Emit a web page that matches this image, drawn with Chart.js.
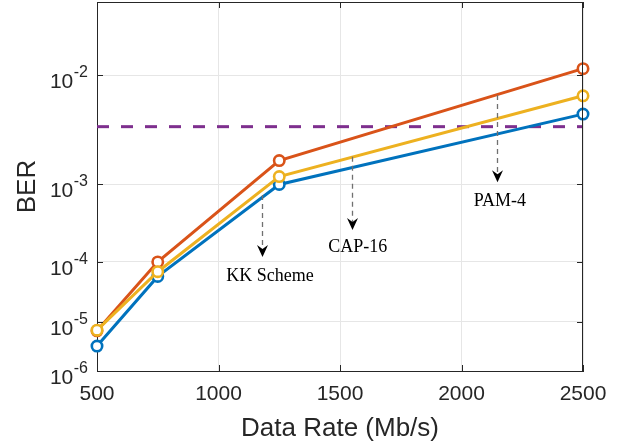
<!DOCTYPE html>
<html>
<head>
<meta charset="utf-8">
<script src="https://cdn.jsdelivr.net/npm/chart.js@4/dist/chart.umd.min.js"></script>
<style>
  html, body { margin: 0; padding: 0; background: #ffffff; }
  #wrap { width: 624px; height: 446px; }
</style>
</head>
<body>
<div id="wrap"><canvas id="c" width="624" height="446"></canvas></div>
<script>
// ---- data ----
const dataRates = [500, 750, 1250, 2500];
const berKK    = [3.4e-6, 6.0e-5, 1.0e-3, 4.9e-3];   // blue
const berPAM4  = [6.8e-6, 1.0e-4, 1.8e-3, 1.12e-2];  // orange
const berCAP16 = [7.0e-6, 7.1e-5, 1.22e-3, 6.95e-3]; // yellow
const fecLimit = 3.8e-3;
const xTicks = [500, 1000, 1500, 2000, 2500];
const yTickExps = [-2, -3, -4, -5, -6];
const xTitle = 'Data Rate (Mb/s)';
const yTitle = 'BER';
// annotations: label, arrow x, arrow start BER, arrow tip BER, label x, label baseline BER
const annLabels  = ['KK Scheme', 'CAP-16', 'PAM-4'];
const annX       = [1180, 1550, 2145];
const annFromBer = [7.6e-4, 1.97e-3, 7.05e-3];
const annToBer   = [1.18e-4, 2.8e-4, 1.06e-3];
const annLabelX  = [1212, 1573, 2158];
const annLabelBer= [5.1e-5, 1.4e-4, 5.6e-4];

// y axis is linear in log10(-log10(BER))
const tf = b => Math.log10(-Math.log10(b));
const yTopBer = 0.03, yBottomBer = 1e-6;

const pts = arr => dataRates.map((x, i) => ({ x: x, y: tf(arr[i]) }));

const AX = '#262626';
const TICKFONT = '"Liberation Sans", Arial, Helvetica, sans-serif';

const lineDs = (label, arr, color, order) => ({
  label, data: pts(arr), borderColor: color, backgroundColor: '#ffffff',
  borderWidth: 3, pointRadius: 5.2, pointBorderWidth: 2.6, pointStyle: 'circle',
  pointBackgroundColor: '#ffffff', pointBorderColor: color, tension: 0, order, clip: false
});

const decorPlugin = {
  id: 'decor',
  afterDraw(chart) {
    const ctx = chart.ctx, a = chart.chartArea;
    const xs = chart.scales.x, ys = chart.scales.y;
    ctx.save();
    // box top and right
    ctx.strokeStyle = AX; ctx.lineWidth = 1;
    ctx.beginPath();
    ctx.moveTo(a.left, a.top + 0.5); ctx.lineTo(a.right, a.top + 0.5);
    ctx.moveTo(a.right - 0.5, a.top); ctx.lineTo(a.right - 0.5, a.bottom);
    ctx.stroke();
    // inward ticks
    const tl = 6;
    ctx.beginPath();
    xTicks.forEach(v => {
      const px = Math.round(xs.getPixelForValue(v)) + 0.5;
      ctx.moveTo(px, a.bottom); ctx.lineTo(px, a.bottom - tl);
      ctx.moveTo(px, a.top); ctx.lineTo(px, a.top + tl);
    });
    yTickExps.forEach(e => {
      const py = Math.round(ys.getPixelForValue(tf(Math.pow(10, e)))) + 0.5;
      ctx.moveTo(a.left, py); ctx.lineTo(a.left + tl, py);
      ctx.moveTo(a.right, py); ctx.lineTo(a.right - tl, py);
    });
    ctx.stroke();
    // x tick labels
    ctx.fillStyle = AX;
    ctx.font = '21px ' + TICKFONT;
    ctx.textAlign = 'center'; ctx.textBaseline = 'alphabetic';
    xTicks.forEach(v => {
      ctx.fillText(String(v), xs.getPixelForValue(v), a.bottom + 29);
    });
    // y tick labels 10^e
    yTickExps.forEach(e => {
      const py = ys.getPixelForValue(tf(Math.pow(10, e)));
      ctx.font = '16px ' + TICKFONT;
      ctx.textAlign = 'right';
      const expTxt = String(e);
      const ew = ctx.measureText(expTxt).width;
      const rightX = a.left - 9;
      ctx.fillText(expTxt, rightX, py + 2);
      ctx.font = '21px ' + TICKFONT;
      ctx.fillText('10', rightX - ew - 0.5, py + 13);
    });
    // axis titles
    ctx.font = '26px ' + TICKFONT;
    ctx.textAlign = 'center';
    ctx.fillText(xTitle, (a.left + a.right) / 2, 436);
    ctx.save();
    ctx.translate(35, 186.5);
    ctx.rotate(-Math.PI / 2);
    ctx.fillText(yTitle, 0, 0);
    ctx.restore();
    ctx.restore();
  },
  afterDatasetsDraw(chart) {
    const ctx = chart.ctx;
    const xs = chart.scales.x, ys = chart.scales.y;
    ctx.save();
    annLabels.forEach((lab, i) => {
      const x = Math.round(xs.getPixelForValue(annX[i])) + 0.5;
      const y0 = ys.getPixelForValue(tf(annFromBer[i]));
      const y1 = ys.getPixelForValue(tf(annToBer[i]));
      const hl = 12, hw = 5.5, notch = 4;
      ctx.strokeStyle = '#707070';
      ctx.lineWidth = 1.3;
      ctx.setLineDash([5, 4]);
      ctx.beginPath();
      ctx.moveTo(x, y0); ctx.lineTo(x, y1 - hl + notch);
      ctx.stroke();
      ctx.setLineDash([]);
      ctx.fillStyle = '#000000';
      ctx.beginPath();
      ctx.moveTo(x, y1);
      ctx.lineTo(x - hw, y1 - hl);
      ctx.lineTo(x, y1 - hl + notch);
      ctx.lineTo(x + hw, y1 - hl);
      ctx.closePath();
      ctx.fill();
      ctx.font = '18px "Liberation Serif", "Times New Roman", serif';
      ctx.textAlign = 'center'; ctx.textBaseline = 'alphabetic';
      ctx.fillStyle = '#000000';
      ctx.fillText(lab, xs.getPixelForValue(annLabelX[i]), ys.getPixelForValue(tf(annLabelBer[i])));
    });
    ctx.restore();
  }
};

new Chart(document.getElementById('c'), {
  type: 'line',
  data: {
    datasets: [
      lineDs('CAP-16', berCAP16, '#EDB120', 0),
      lineDs('PAM-4', berPAM4, '#D95319', 1),
      lineDs('KK Scheme', berKK, '#0072BD', 2),
      {
        label: 'FEC limit', data: [{ x: xTicks[0], y: tf(fecLimit) }, { x: xTicks[xTicks.length - 1], y: tf(fecLimit) }],
        borderColor: '#7E2F8E', borderWidth: 3, borderDash: [12, 12], pointRadius: 0, order: 3
      }
    ]
  },
  options: {
    responsive: false,
    animation: false,
    devicePixelRatio: 1,
    layout: { autoPadding: false, padding: { top: 2, right: 41, left: 0, bottom: 0 } },
    plugins: { legend: { display: false }, tooltip: { enabled: false } },
    scales: {
      x: {
        type: 'linear', min: 500, max: 2500,
        afterBuildTicks: s => { s.ticks = xTicks.map(v => ({ value: v })); },
        afterFit: s => { s.height = 75; },
        ticks: { display: false },
        grid: { color: '#e6e6e6', lineWidth: 1, drawTicks: false },
        border: { display: true, color: AX, width: 1 }
      },
      y: {
        type: 'linear', reverse: true, min: tf(yTopBer), max: tf(yBottomBer),
        afterBuildTicks: s => { s.ticks = yTickExps.map(e => ({ value: tf(Math.pow(10, e)) })); },
        afterFit: s => { s.width = 97; },
        ticks: { display: false },
        grid: { color: '#e6e6e6', lineWidth: 1, drawTicks: false },
        border: { display: true, color: AX, width: 1 }
      }
    }
  },
  plugins: [decorPlugin]
});
</script>
</body>
</html>
